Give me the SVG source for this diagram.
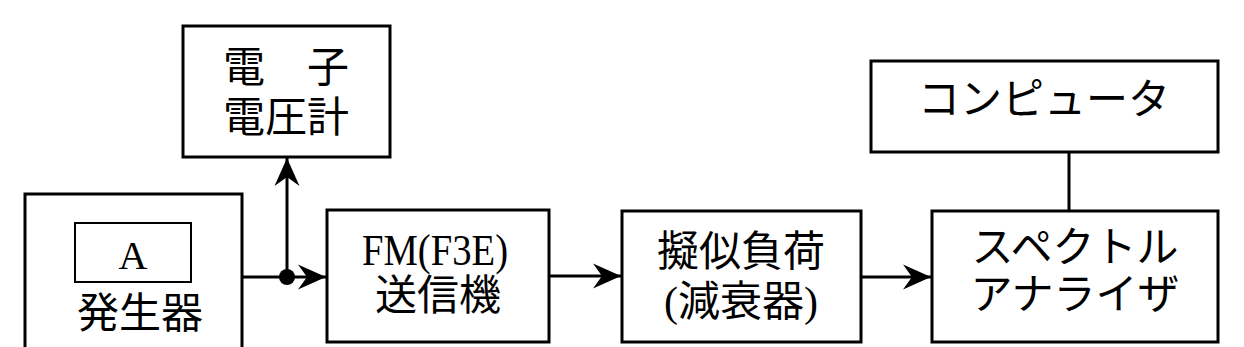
<svg xmlns="http://www.w3.org/2000/svg" width="1244" height="347" viewBox="0 0 1244 347">
<style>
.box{fill:#fff;stroke:#000;stroke-width:3}
.line{fill:none;stroke:#000;stroke-width:3}
.jp{font-family:"Liberation Serif","Noto Sans CJK JP",serif;font-size:42px;fill:#000;text-anchor:middle}
.lat{font-family:"Liberation Serif",serif;fill:#000;text-anchor:middle}
</style>
<defs>
<marker id="arr" markerUnits="userSpaceOnUse" markerWidth="32" markerHeight="32" viewBox="0 0 32 32" refX="29" refY="16" orient="auto" overflow="visible">
<path d="M1,3.5 L29,16 L1,28.5 L10,16 Z" fill="#000"/>
</marker>
</defs>
<g id="generator">
<path class="line" d="M25,347 V194 H242 V347"/>
<rect x="75" y="223" width="116" height="59" fill="#fff" stroke="#000" stroke-width="2"/>
<text class="lat" x="133" y="269" style="font-size:40px">A</text>
<text class="jp" x="140" y="328">発生器</text>
</g>
<g id="voltmeter">
<rect class="box" x="183" y="26" width="207" height="131"/>
<text class="jp" x="286" y="82" xml:space="preserve">電　子</text>
<text class="jp" x="286" y="132">電圧計</text>
</g>
<g id="transmitter">
<rect class="box" x="327" y="210" width="222" height="132"/>
<text class="lat" x="435" y="265" style="font-size:44px" textLength="146" lengthAdjust="spacingAndGlyphs">FM(F3E)</text>
<text class="jp" x="438" y="310">送信機</text>
</g>
<g id="dummyload">
<rect class="box" x="622" y="211" width="239" height="131"/>
<text class="jp" x="741" y="266">擬似負荷</text>
<text class="jp" x="741" y="316">(減衰器)</text>
</g>
<g id="computer">
<rect class="box" x="871" y="61" width="347" height="91"/>
<text class="jp" x="1044" y="114">コンピュータ</text>
</g>
<g id="analyzer">
<rect class="box" x="932" y="211" width="286" height="131"/>
<text class="jp" x="1075" y="262">スペクトル</text>
<text class="jp" x="1075" y="309">アナライザ</text>
</g>
<g id="connectors">
<line class="line" x1="242" y1="277" x2="326" y2="277" marker-end="url(#arr)"/>
<line class="line" x1="287" y1="277" x2="287" y2="158" marker-end="url(#arr)"/>
<circle cx="287" cy="277" r="8" fill="#000"/>
<line class="line" x1="549" y1="276" x2="621" y2="276" marker-end="url(#arr)"/>
<line class="line" x1="861" y1="277" x2="931" y2="277" marker-end="url(#arr)"/>
<line class="line" x1="1069" y1="152" x2="1069" y2="211"/>
</g>
</svg>
